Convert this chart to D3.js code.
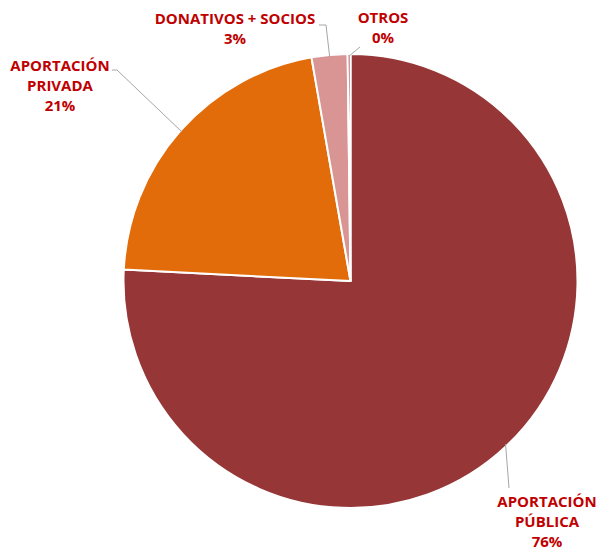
<!DOCTYPE html>
<html>
<head>
<meta charset="utf-8">
<script src="https://cdn.jsdelivr.net/npm/d3@7"></script>
<style>
  body { margin: 0; background: #fff; }
  text { font-family: "Open Sans", sans-serif; font-weight: 700; }
</style>
</head>
<body>
<div id="chart"></div>
<script>
// datos
const categories = ['APORTACIÓN PÚBLICA', 'APORTACIÓN PRIVADA', 'DONATIVOS + SOCIOS', 'OTROS']
const values = [75.8, 21.45, 2.55, 0.2]
const labelLines = [['APORTACIÓN', 'PÚBLICA', '76%'], ['APORTACIÓN', 'PRIVADA', '21%'], ['DONATIVOS + SOCIOS', '3%'], ['OTROS', '0%']]
const colors = ['#963636', '#E36C0A', '#D99594', '#963636']

const width = 598, height = 551
const cx = 350.5, cy = 281, radius = 227

// posiciones de etiquetas (texto y codo de la línea guía)
const labelLayout = [
  {x: 547, y: 502, elbow: null, end: [509, 488]},
  {x: 60, y: 66, elbow: [117, 70], end: [112, 70]},
  {x: 235, y: 19, elbow: [326, 25], end: [319, 25]},
  {x: 383, y: 18, elbow: null, end: [360, 47]}
]

const data = categories.map((c, i) => ({cat: c, value: values[i], lines: labelLines[i], color: colors[i], layout: labelLayout[i]}))

const svg = d3.select('#chart').append('svg').attr('width', width).attr('height', height)
const g = svg.append('g').attr('transform', `translate(${cx},${cy})`)

const pie = d3.pie().value(d => d.value).sort(null)
const arc = d3.arc().innerRadius(0).outerRadius(radius)
const edgeArc = d3.arc().innerRadius(radius - 2).outerRadius(radius - 2)

const arcs = pie(data)

g.selectAll('.slice').data(arcs).enter().append('path')
  .attr('class', 'slice')
  .attr('d', arc)
  .attr('fill', d => d.data.color)
  .attr('stroke', '#fff')
  .attr('stroke-width', 2)
  .attr('stroke-linejoin', 'round')

// líneas guía
svg.selectAll('.leader').data(arcs).enter().append('polyline')
  .attr('class', 'leader')
  .attr('points', d => {
    const c = edgeArc.centroid(d)
    const pts = [[c[0] + cx, c[1] + cy]]
    if (d.data.layout.elbow) pts.push(d.data.layout.elbow)
    pts.push(d.data.layout.end)
    return pts.map(p => p.join(',')).join(' ')
  })
  .attr('fill', 'none')
  .attr('stroke', '#a6a6a6')
  .attr('stroke-width', 1)

// etiquetas
const labels = svg.selectAll('.label').data(data).enter().append('text')
  .attr('class', 'label')
  .attr('text-anchor', 'middle')
  .attr('fill', '#C00000')
  .style('font-size', '15px')

labels.each(function(d) {
  const t = d3.select(this)
  d.lines.forEach((line, i) => {
    t.append('tspan')
      .attr('x', d.layout.x)
      .attr('y', d.layout.y + 5 + i * 20)
      .text(line)
  })
})
</script>
</body>
</html>
